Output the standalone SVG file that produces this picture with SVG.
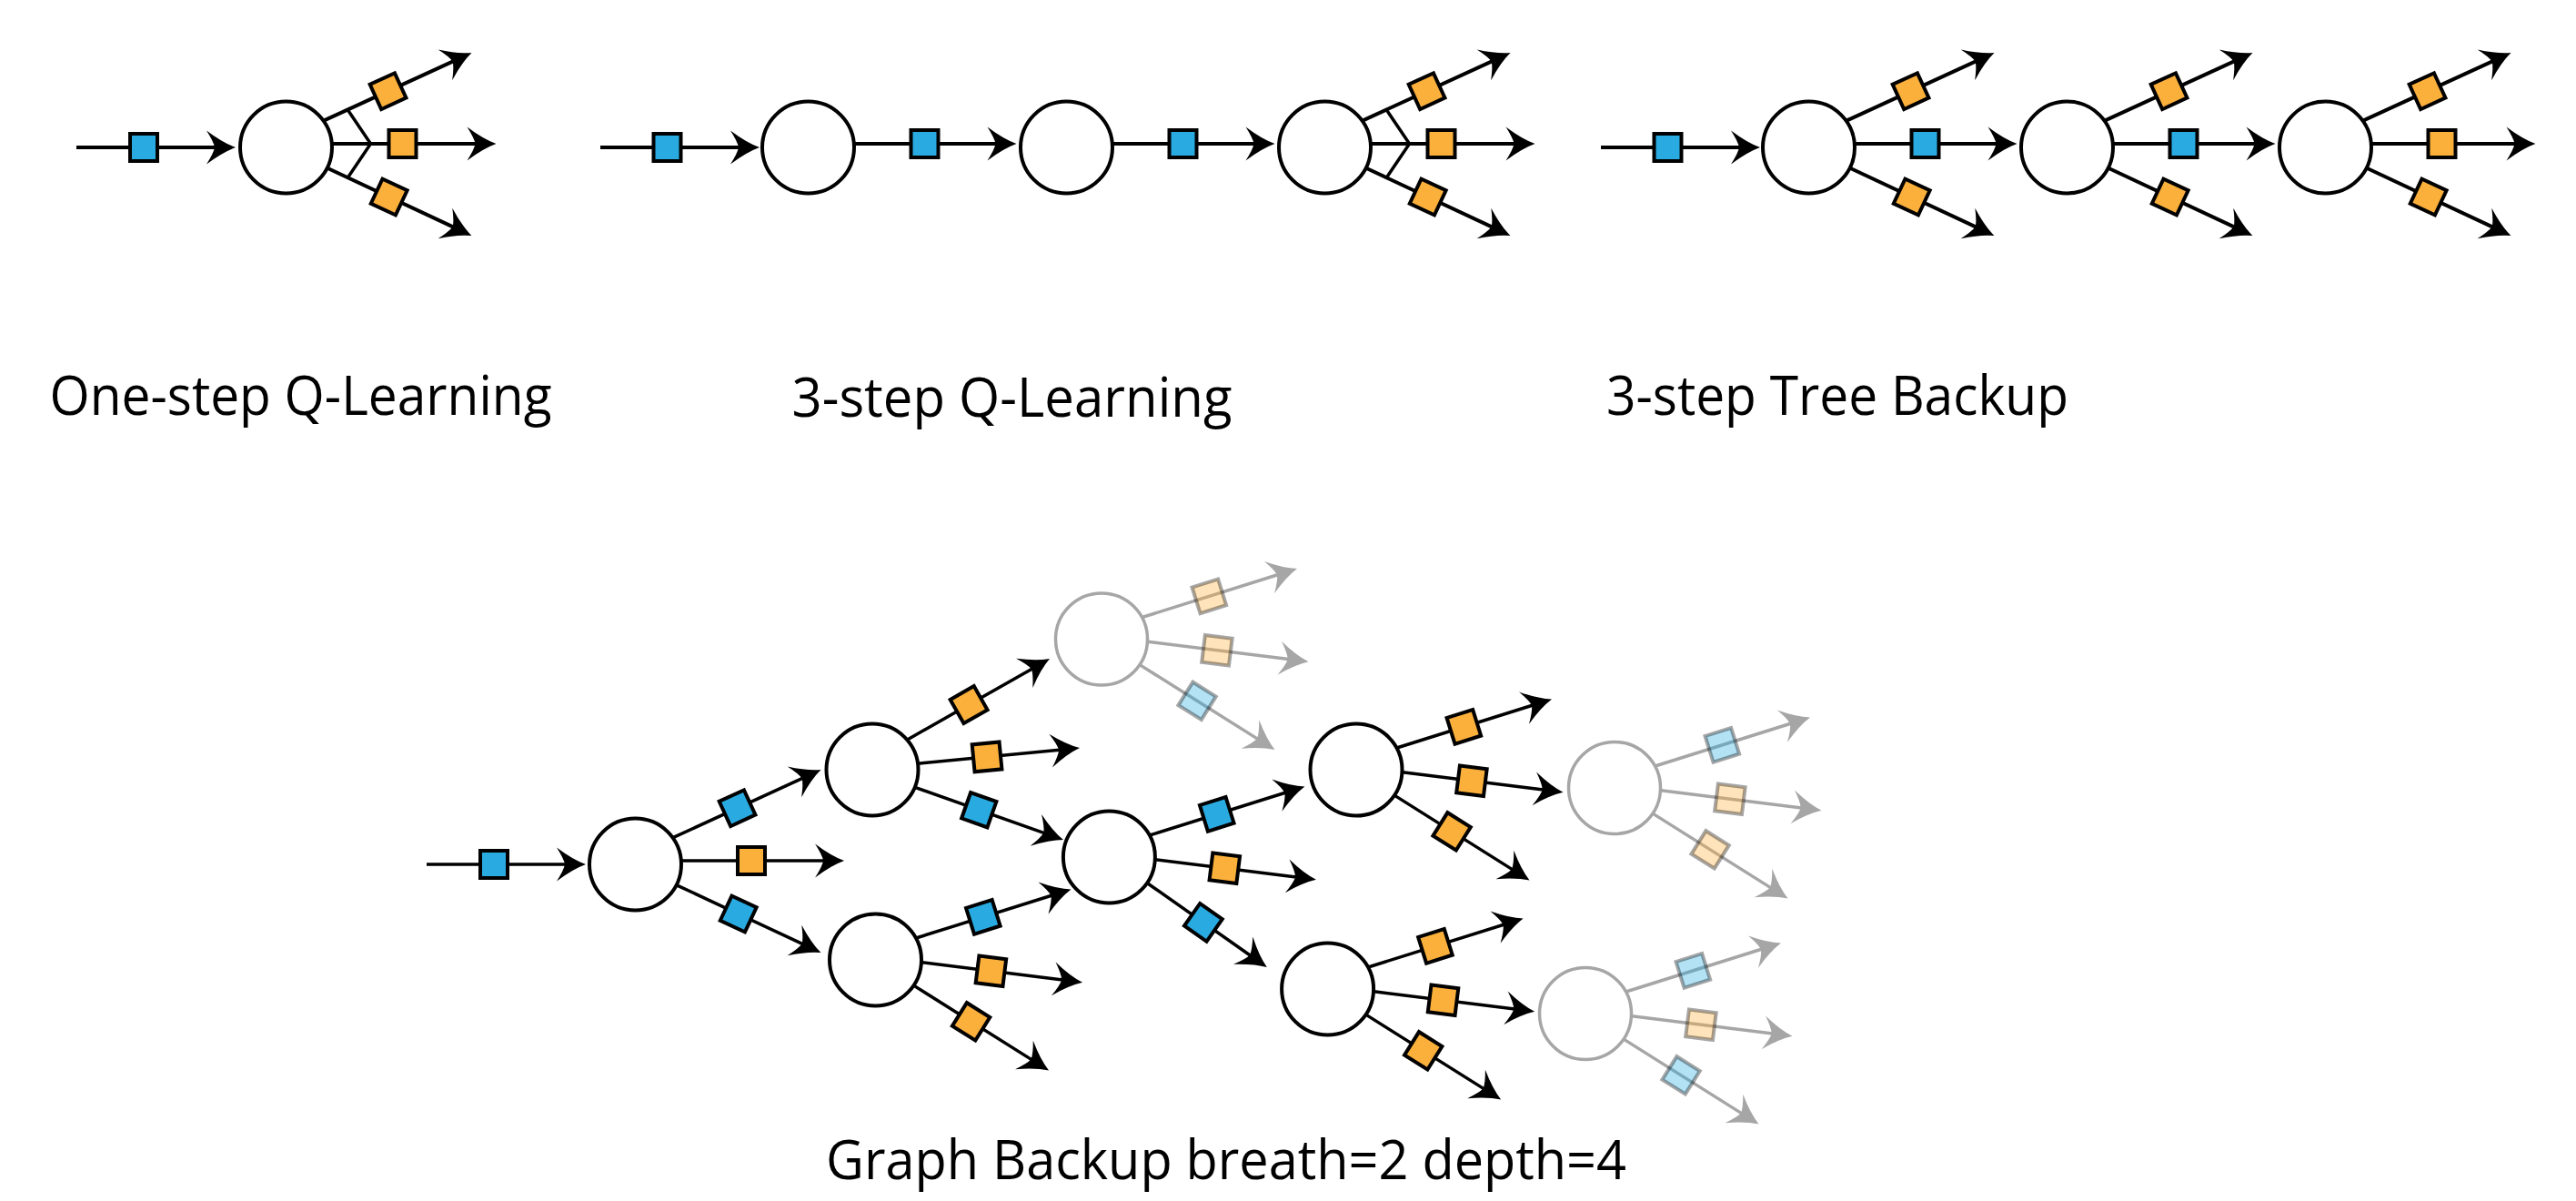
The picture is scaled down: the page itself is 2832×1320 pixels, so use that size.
<svg xmlns="http://www.w3.org/2000/svg" xmlns:xlink="http://www.w3.org/1999/xlink" width="2832" height="1320" viewBox="0 0 2832 1320">
<style>
.ln{stroke:#000;stroke-width:4;fill:none}
.lt{stroke:#000;stroke-width:3.5;fill:none}
.lg{stroke:#A6A6A6;stroke-width:3.5;fill:none}
.ab{fill:#000}
.ag{fill:#A6A6A6}
.b{fill:#29ABE2;stroke:#000;stroke-width:4}
.o{fill:#FBB03B;stroke:#000;stroke-width:4}
.pb{fill:#29ABE2;fill-opacity:.35;stroke:#000;stroke-opacity:.35;stroke-width:4}
.po{fill:#FBB03B;fill-opacity:.35;stroke:#000;stroke-opacity:.35;stroke-width:4}
.vm{stroke:#000;stroke-width:3.5;fill:none;stroke-linejoin:miter}
.nd{fill:#fff;stroke:#000;stroke-width:4}
.ng{fill:#fff;stroke:#A6A6A6;stroke-width:3.5}
.tx{font-family:"Open Sans","Noto Sans","Liberation Sans",sans-serif;font-size:61px;fill:#000}
</style>
<defs>
<path id="ah" d="M0,0 Q-14,-5 -32,-18.5 Q-24,-6 -23,0 Q-24,6 -32,18.5 Q-14,5 0,0Z"/>
<rect id="sq" x="-15" y="-15" width="30" height="30"/>
</defs>

<g id="connectors">
  <!-- One-step Q-Learning -->
  <g transform="translate(84 162)"><line class="ln" x1="0" y1="0" x2="155" y2="0"/><use href="#ah" x="175" class="ab"/><use href="#sq" x="74" class="b"/></g>
  <g transform="translate(314.5 162)">
    <g transform="translate(45 -31) rotate(-24.66)"><line class="ln" x1="-4" y1="0" x2="155" y2="0"/><use href="#ah" x="175" class="ab"/><use href="#sq" x="73.8" class="o"/></g>
    <g transform="translate(52 -4)"><line class="ln" x1="-4" y1="0" x2="159" y2="0"/><use href="#ah" x="179" class="ab"/><use href="#sq" x="76" class="o"/></g>
    <g transform="translate(48 24) rotate(25.08)"><line class="ln" x1="-4" y1="0" x2="152" y2="0"/><use href="#ah" x="172.2" class="ab"/><use href="#sq" x="72" class="o"/></g>
    <polyline class="vm" points="68,-41 93,-4 68,33"/>
  </g>

  <!-- 3-step Q-Learning -->
  <g transform="translate(660 162)"><line class="ln" x1="0" y1="0" x2="155" y2="0"/><use href="#ah" x="175" class="ab"/><use href="#sq" x="73.5" class="b"/></g>
  <g transform="translate(888.5 162)">
    <g transform="translate(52 -4)"><line class="ln" x1="-4" y1="0" x2="157" y2="0"/><use href="#ah" x="177" class="ab"/><use href="#sq" x="76" class="b"/></g>
  </g>
  <g transform="translate(1172.5 162)">
    <g transform="translate(52 -4)"><line class="ln" x1="-4" y1="0" x2="157" y2="0"/><use href="#ah" x="177" class="ab"/><use href="#sq" x="76" class="b"/></g>
  </g>
  <g transform="translate(1456.5 162)">
    <g transform="translate(45 -31) rotate(-24.66)"><line class="ln" x1="-4" y1="0" x2="155" y2="0"/><use href="#ah" x="175" class="ab"/><use href="#sq" x="73.8" class="o"/></g>
    <g transform="translate(52 -4)"><line class="ln" x1="-4" y1="0" x2="159" y2="0"/><use href="#ah" x="179" class="ab"/><use href="#sq" x="76" class="o"/></g>
    <g transform="translate(48 24) rotate(25.08)"><line class="ln" x1="-4" y1="0" x2="152" y2="0"/><use href="#ah" x="172.2" class="ab"/><use href="#sq" x="72" class="o"/></g>
    <polyline class="vm" points="68,-41 93,-4 68,33"/>
  </g>

  <!-- 3-step Tree Backup -->
  <g transform="translate(1760 162)"><line class="ln" x1="0" y1="0" x2="155" y2="0"/><use href="#ah" x="175" class="ab"/><use href="#sq" x="73.5" class="b"/></g>
  <g transform="translate(1988.5 162)">
    <g transform="translate(45 -31) rotate(-24.66)"><line class="ln" x1="-4" y1="0" x2="155" y2="0"/><use href="#ah" x="175" class="ab"/><use href="#sq" x="73.8" class="o"/></g>
    <g transform="translate(52 -4)"><line class="ln" x1="-4" y1="0" x2="157" y2="0"/><use href="#ah" x="177" class="ab"/><use href="#sq" x="76" class="b"/></g>
    <g transform="translate(48 24) rotate(25.08)"><line class="ln" x1="-4" y1="0" x2="152" y2="0"/><use href="#ah" x="172.2" class="ab"/><use href="#sq" x="72" class="o"/></g>
  </g>
  <g transform="translate(2272.5 162)">
    <g transform="translate(45 -31) rotate(-24.66)"><line class="ln" x1="-4" y1="0" x2="155" y2="0"/><use href="#ah" x="175" class="ab"/><use href="#sq" x="73.8" class="o"/></g>
    <g transform="translate(52 -4)"><line class="ln" x1="-4" y1="0" x2="157" y2="0"/><use href="#ah" x="177" class="ab"/><use href="#sq" x="76" class="b"/></g>
    <g transform="translate(48 24) rotate(25.08)"><line class="ln" x1="-4" y1="0" x2="152" y2="0"/><use href="#ah" x="172.2" class="ab"/><use href="#sq" x="72" class="o"/></g>
  </g>
  <g transform="translate(2556.5 162)">
    <g transform="translate(45 -31) rotate(-24.66)"><line class="ln" x1="-4" y1="0" x2="155" y2="0"/><use href="#ah" x="175" class="ab"/><use href="#sq" x="73.8" class="o"/></g>
    <g transform="translate(52 -4)"><line class="ln" x1="-4" y1="0" x2="159" y2="0"/><use href="#ah" x="179" class="ab"/><use href="#sq" x="76" class="o"/></g>
    <g transform="translate(48 24) rotate(25.08)"><line class="ln" x1="-4" y1="0" x2="152" y2="0"/><use href="#ah" x="172.2" class="ab"/><use href="#sq" x="72" class="o"/></g>
  </g>

  <!-- Graph Backup -->
  <g transform="translate(469 950)"><line class="lt" x1="0" y1="0" x2="155" y2="0"/><use href="#ah" x="175" class="ab"/><use href="#sq" x="74" class="b"/></g>
  <!-- A -->
  <g transform="translate(698.5 950)">
    <g transform="translate(45 -31) rotate(-24.66)"><line class="lt" x1="-4" y1="0" x2="155" y2="0"/><use href="#ah" x="175" class="ab"/><use href="#sq" x="73.8" class="b"/></g>
    <g transform="translate(52 -4)"><line class="lt" x1="-4" y1="0" x2="157.6" y2="0"/><use href="#ah" x="177.6" class="ab"/><use href="#sq" x="75.5" class="o"/></g>
    <g transform="translate(48 24) rotate(25.08)"><line class="lt" x1="-4" y1="0" x2="152" y2="0"/><use href="#ah" x="172.2" class="ab"/><use href="#sq" x="72" class="b"/></g>
  </g>
  <!-- B -->
  <g transform="translate(959 846)">
    <g transform="translate(42 -35) rotate(-29.62)"><line class="lt" x1="-4" y1="0" x2="156" y2="0"/><use href="#ah" x="176" class="ab"/><use href="#sq" x="73.75" class="o"/></g>
    <g transform="translate(52 -7) rotate(-5.52)"><line class="lt" x1="-4" y1="0" x2="156.8" y2="0"/><use href="#ah" x="176.8" class="ab"/><use href="#sq" x="74.4" class="o"/></g>
    <g transform="translate(50.7 20.7) rotate(19.47)"><line class="lt" x1="-4" y1="0" x2="149" y2="0"/><use href="#ah" x="169" class="ab"/><use href="#sq" x="70.6" class="b"/></g>
  </g>
  <!-- C -->
  <g transform="translate(962.5 1055)">
    <g transform="translate(48.4 -25.2) rotate(-17.43)"><line class="lt" x1="-4" y1="0" x2="154.6" y2="0"/><use href="#ah" x="174.6" class="ab"/><use href="#sq" x="73.3" class="b"/></g>
    <g transform="translate(53 3) rotate(7.12)"><line class="lt" x1="-4" y1="0" x2="155.9" y2="0"/><use href="#ah" x="175.9" class="ab"/><use href="#sq" x="74.5" class="o"/></g>
    <g transform="translate(45 30) rotate(32.17)"><line class="lt" x1="-4" y1="0" x2="151.9" y2="0"/><use href="#ah" x="171.9" class="ab"/><use href="#sq" x="71" class="o"/></g>
  </g>
  <!-- D -->
  <g transform="translate(1219.4 942)">
    <g transform="translate(48.4 -25.2) rotate(-17.43)"><line class="lt" x1="-4" y1="0" x2="154.6" y2="0"/><use href="#ah" x="174.6" class="ab"/><use href="#sq" x="73.3" class="b"/></g>
    <g transform="translate(53 3) rotate(7.12)"><line class="lt" x1="-4" y1="0" x2="155.9" y2="0"/><use href="#ah" x="175.9" class="ab"/><use href="#sq" x="74.5" class="o"/></g>
    <g transform="translate(45.4 31) rotate(35.11)"><line class="lt" x1="-4" y1="0" x2="136.5" y2="0"/><use href="#ah" x="156.5" class="ab"/><use href="#sq" x="71" class="b"/></g>
  </g>
  <!-- E (faded) -->
  <g transform="translate(1211 702.5)">
    <g transform="translate(48.4 -25.2) rotate(-17.43)"><line class="lg" x1="-4" y1="0" x2="154.6" y2="0"/><use href="#ah" x="174.6" class="ag"/><use href="#sq" x="73.3" class="po"/></g>
    <g transform="translate(53 3) rotate(7.12)"><line class="lg" x1="-4" y1="0" x2="155.9" y2="0"/><use href="#ah" x="175.9" class="ag"/><use href="#sq" x="74.5" class="po"/></g>
    <g transform="translate(45 30) rotate(32.17)"><line class="lg" x1="-4" y1="0" x2="151.9" y2="0"/><use href="#ah" x="171.9" class="ag"/><use href="#sq" x="71" class="pb"/></g>
  </g>
  <!-- F -->
  <g transform="translate(1491 846)">
    <g transform="translate(48.4 -25.2) rotate(-17.43)"><line class="lt" x1="-4" y1="0" x2="154.6" y2="0"/><use href="#ah" x="174.6" class="ab"/><use href="#sq" x="73.3" class="o"/></g>
    <g transform="translate(53 3) rotate(7.12)"><line class="lt" x1="-4" y1="0" x2="155.9" y2="0"/><use href="#ah" x="175.9" class="ab"/><use href="#sq" x="74.5" class="o"/></g>
    <g transform="translate(45 30) rotate(32.17)"><line class="lt" x1="-4" y1="0" x2="151.9" y2="0"/><use href="#ah" x="171.9" class="ab"/><use href="#sq" x="71" class="o"/></g>
  </g>
  <!-- G -->
  <g transform="translate(1459.6 1087)">
    <g transform="translate(48.4 -25.2) rotate(-17.43)"><line class="lt" x1="-4" y1="0" x2="154.6" y2="0"/><use href="#ah" x="174.6" class="ab"/><use href="#sq" x="73.3" class="o"/></g>
    <g transform="translate(53 3) rotate(7.12)"><line class="lt" x1="-4" y1="0" x2="155.9" y2="0"/><use href="#ah" x="175.9" class="ab"/><use href="#sq" x="74.5" class="o"/></g>
    <g transform="translate(45 30) rotate(32.17)"><line class="lt" x1="-4" y1="0" x2="151.9" y2="0"/><use href="#ah" x="171.9" class="ab"/><use href="#sq" x="71" class="o"/></g>
  </g>
  <!-- H (faded) -->
  <g transform="translate(1775 866)">
    <g transform="translate(48.4 -25.2) rotate(-17.43)"><line class="lg" x1="-4" y1="0" x2="154.6" y2="0"/><use href="#ah" x="174.6" class="ag"/><use href="#sq" x="73.3" class="pb"/></g>
    <g transform="translate(53 3) rotate(7.12)"><line class="lg" x1="-4" y1="0" x2="155.9" y2="0"/><use href="#ah" x="175.9" class="ag"/><use href="#sq" x="74.5" class="po"/></g>
    <g transform="translate(45 30) rotate(32.17)"><line class="lg" x1="-4" y1="0" x2="151.9" y2="0"/><use href="#ah" x="171.9" class="ag"/><use href="#sq" x="71" class="po"/></g>
  </g>
  <!-- I (faded) -->
  <g transform="translate(1743 1114)">
    <g transform="translate(48.4 -25.2) rotate(-17.43)"><line class="lg" x1="-4" y1="0" x2="154.6" y2="0"/><use href="#ah" x="174.6" class="ag"/><use href="#sq" x="73.3" class="pb"/></g>
    <g transform="translate(53 3) rotate(7.12)"><line class="lg" x1="-4" y1="0" x2="155.9" y2="0"/><use href="#ah" x="175.9" class="ag"/><use href="#sq" x="74.5" class="po"/></g>
    <g transform="translate(45 30) rotate(32.17)"><line class="lg" x1="-4" y1="0" x2="151.9" y2="0"/><use href="#ah" x="171.9" class="ag"/><use href="#sq" x="71" class="pb"/></g>
  </g>
</g>

<g id="node-1step"><circle class="nd" cx="314.5" cy="162" r="50.5"/></g>
<g id="node-3q-1"><circle class="nd" cx="888.5" cy="162" r="50.5"/></g>
<g id="node-3q-2"><circle class="nd" cx="1172.5" cy="162" r="50.5"/></g>
<g id="node-3q-3"><circle class="nd" cx="1456.5" cy="162" r="50.5"/></g>
<g id="node-tb-1"><circle class="nd" cx="1988.5" cy="162" r="50.5"/></g>
<g id="node-tb-2"><circle class="nd" cx="2272.5" cy="162" r="50.5"/></g>
<g id="node-tb-3"><circle class="nd" cx="2556.5" cy="162" r="50.5"/></g>
<g id="node-A"><circle class="nd" cx="698.5" cy="950" r="50.5"/></g>
<g id="node-B"><circle class="nd" cx="959" cy="846" r="50.5"/></g>
<g id="node-C"><circle class="nd" cx="962.5" cy="1055" r="50.5"/></g>
<g id="node-D"><circle class="nd" cx="1219.4" cy="942" r="50.5"/></g>
<g id="node-E"><circle class="ng" cx="1211" cy="702.5" r="50.5"/></g>
<g id="node-F"><circle class="nd" cx="1491" cy="846" r="50.5"/></g>
<g id="node-G"><circle class="nd" cx="1459.6" cy="1087" r="50.5"/></g>
<g id="node-H"><circle class="ng" cx="1775" cy="866" r="50.5"/></g>
<g id="node-I"><circle class="ng" cx="1743" cy="1114" r="50.5"/></g>

<g id="labels">
  <text class="tx" x="54.5" y="456" textLength="552" lengthAdjust="spacingAndGlyphs">One-step Q-Learning</text>
  <text class="tx" x="870.5" y="458" textLength="484" lengthAdjust="spacingAndGlyphs">3-step Q-Learning</text>
  <text class="tx" x="1766" y="456" textLength="508" lengthAdjust="spacingAndGlyphs">3-step Tree Backup</text>
  <text class="tx" x="908" y="1296" textLength="880" lengthAdjust="spacingAndGlyphs">Graph Backup breath=2 depth=4</text>
</g>
</svg>
